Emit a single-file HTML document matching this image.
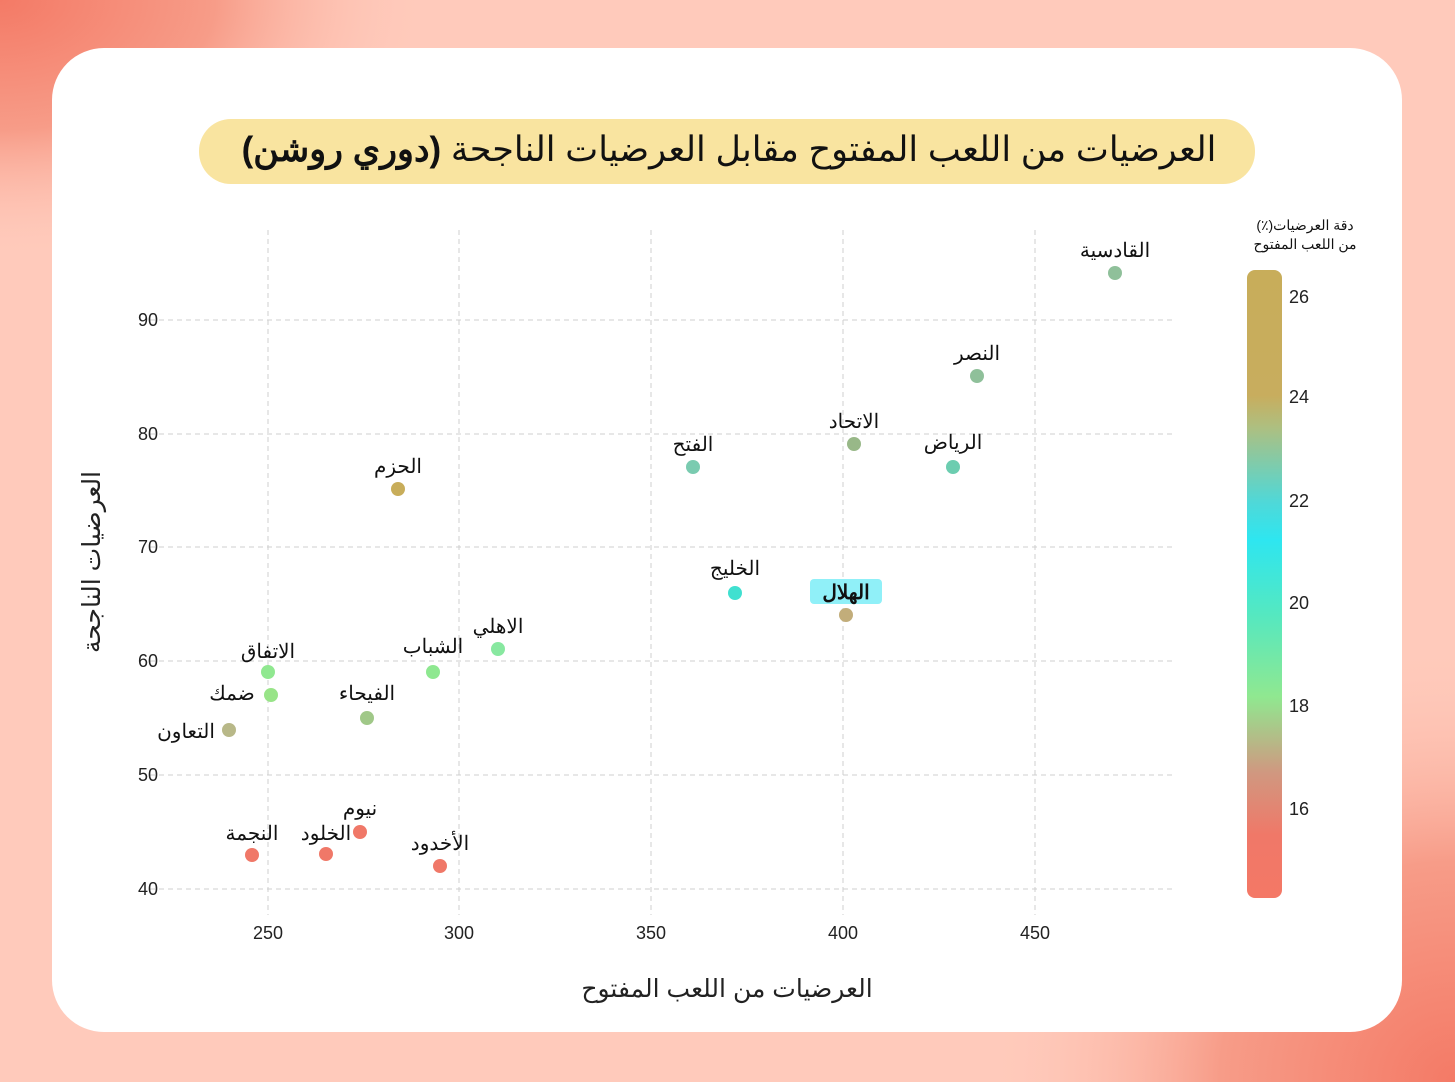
<!DOCTYPE html>
<html><head><meta charset="utf-8"><style>
html,body{margin:0;padding:0;width:1455px;height:1082px;overflow:hidden;background:#ffcabb}
svg{display:block}
text{font-family:"Liberation Sans","Noto Sans CJK SC",sans-serif}
</style></head><body>
<svg width="1455" height="1082" xmlns="http://www.w3.org/2000/svg">
<defs>
<radialGradient id="c1" cx="0" cy="0" r="1" gradientUnits="userSpaceOnUse" gradientTransform="translate(0,0) scale(430,260)">
<stop offset="0" stop-color="#f47a66"/><stop offset="0.5" stop-color="#f79c88"/><stop offset="1" stop-color="#ffcabb" stop-opacity="0"/></radialGradient>
<radialGradient id="c2" cx="0" cy="0" r="1" gradientUnits="userSpaceOnUse" gradientTransform="translate(1455,1082) scale(470,440)">
<stop offset="0" stop-color="#f47a66"/><stop offset="0.5" stop-color="#f79c88"/><stop offset="1" stop-color="#ffcabb" stop-opacity="0"/></radialGradient>
<linearGradient id="cb" x1="0" y1="270" x2="0" y2="898" gradientUnits="userSpaceOnUse">
<stop offset="0" stop-color="#c8ad5a"/><stop offset="0.2" stop-color="#c8ad5e"/><stop offset="0.25" stop-color="#aebf80"/><stop offset="0.37" stop-color="#4fd8d8"/><stop offset="0.43" stop-color="#2ee6f0"/><stop offset="0.55" stop-color="#55e8c0"/><stop offset="0.68" stop-color="#90e890"/><stop offset="0.8" stop-color="#d09880"/><stop offset="0.9" stop-color="#f07868"/><stop offset="1" stop-color="#f47866"/></linearGradient>
</defs>
<rect width="1455" height="1082" fill="#ffcabb"/>
<rect width="1455" height="1082" fill="url(#c1)"/>
<rect width="1455" height="1082" fill="url(#c2)"/>
<rect x="52" y="48" width="1350" height="984" rx="52" fill="#fff"/>
<rect x="199" y="119" width="1056" height="65" rx="32" fill="#f9e4a0"/>
<text x="729" y="161" text-anchor="middle" font-size="35" fill="#111" direction="rtl">العرضيات من اللعب المفتوح مقابل العرضيات الناجحة <tspan font-weight="bold">(دوري روشن)</tspan></text>
<g stroke="#cfcfcf" stroke-dasharray="5,4" stroke-width="1">
<line x1="268" y1="230" x2="268" y2="915"/><line x1="459" y1="230" x2="459" y2="915"/><line x1="651" y1="230" x2="651" y2="915"/><line x1="843" y1="230" x2="843" y2="915"/><line x1="1035" y1="230" x2="1035" y2="915"/>
<line x1="150" y1="320" x2="1176" y2="320"/><line x1="150" y1="434" x2="1176" y2="434"/><line x1="150" y1="547" x2="1176" y2="547"/><line x1="150" y1="661" x2="1176" y2="661"/><line x1="150" y1="775" x2="1176" y2="775"/><line x1="150" y1="889" x2="1176" y2="889"/>
</g>
<g font-size="18" fill="#222" text-anchor="middle">
<text x="268" y="939">250</text><text x="459" y="939">300</text><text x="651" y="939">350</text><text x="843" y="939">400</text><text x="1035" y="939">450</text>
</g>
<g font-size="18" fill="#222" text-anchor="end">
<text x="158" y="326">90</text><text x="158" y="440">80</text><text x="158" y="553">70</text><text x="158" y="667">60</text><text x="158" y="781">50</text><text x="158" y="895">40</text>
</g>
<text x="727" y="997" text-anchor="middle" font-size="25" fill="#222">العرضيات من اللعب المفتوح</text>
<text transform="translate(100,562) rotate(-90)" text-anchor="middle" font-size="25" fill="#222">العرضيات الناجحة</text>
<rect x="810" y="579" width="72" height="25" rx="4" fill="#90f0f8"/>
<g>
<circle cx="1115" cy="273" r="7" fill="#8fc09a"/><circle cx="977" cy="376" r="7" fill="#8fc09a"/><circle cx="854" cy="444" r="7" fill="#98b888"/><circle cx="953" cy="467" r="7" fill="#6ccdb0"/><circle cx="693" cy="467" r="7" fill="#7acbb0"/><circle cx="398" cy="489" r="7" fill="#c8ad5a"/><circle cx="735" cy="593" r="7" fill="#40e0d0"/><circle cx="846" cy="615" r="7" fill="#c2ad7a"/><circle cx="498" cy="649" r="7" fill="#88e8a0"/><circle cx="433" cy="672" r="7" fill="#8ee890"/><circle cx="268" cy="672" r="7" fill="#90e890"/><circle cx="271" cy="695" r="7" fill="#98e488"/><circle cx="367" cy="718" r="7" fill="#a0c888"/><circle cx="229" cy="730" r="7" fill="#b8b888"/><circle cx="360" cy="832" r="7" fill="#f07868"/><circle cx="252" cy="855" r="7" fill="#f07868"/><circle cx="326" cy="854" r="7" fill="#f07868"/><circle cx="440" cy="866" r="7" fill="#f07868"/>
</g>
<g font-size="20" fill="#111" text-anchor="middle">
<text x="1115" y="257">القادسية</text><text x="977" y="360">النصر</text><text x="854" y="428">الاتحاد</text><text x="953" y="449">الرياض</text><text x="693" y="451">الفتح</text><text x="398" y="473">الحزم</text><text x="735" y="575">الخليج</text><text x="846" y="599" font-weight="bold">الهلال</text><text x="498" y="633">الاهلي</text><text x="433" y="653">الشباب</text><text x="268" y="658">الاتفاق</text><text x="232" y="700">ضمك</text><text x="367" y="700">الفيحاء</text><text x="186" y="738">التعاون</text><text x="360" y="815">نيوم</text><text x="252" y="840">النجمة</text><text x="326" y="840">الخلود</text><text x="440" y="850">الأخدود</text>
</g>
<text x="1305" y="230" text-anchor="middle" font-size="14" fill="#111">(٪)دقة العرضيات</text>
<text x="1305" y="249" text-anchor="middle" font-size="14" fill="#111">من اللعب المفتوح</text>
<rect x="1247" y="270" width="35" height="628" rx="8" fill="url(#cb)"/>
<g font-size="18" fill="#222">
<text x="1289" y="303">26</text><text x="1289" y="403">24</text><text x="1289" y="507">22</text><text x="1289" y="609">20</text><text x="1289" y="712">18</text><text x="1289" y="815">16</text>
</g>
</svg>
</body></html>
